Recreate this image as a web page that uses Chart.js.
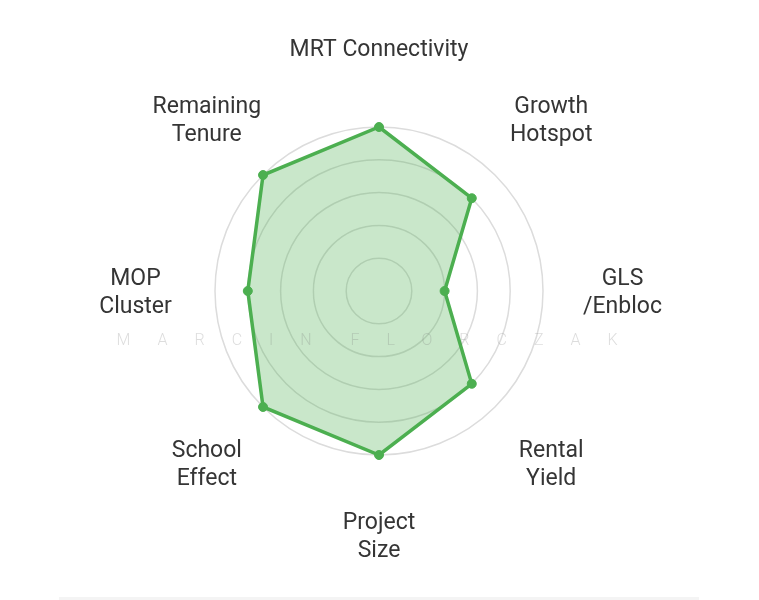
<!DOCTYPE html>
<html>
<head>
<meta charset="utf-8">
<script src="https://cdn.jsdelivr.net/npm/chart.js@4"></script>
<style>
  html, body { margin: 0; padding: 0; background: #ffffff; }
  #wrap { position: relative; width: 759px; height: 600px; overflow: hidden; }
  #c { position: absolute; left: 0; top: 0; }
  #wm {
    position: absolute; left: 116.5px; top: 330px;
    font: 300 16px Roboto, "Noto Sans", sans-serif;
    letter-spacing: 27px; word-spacing: -19px; white-space: pre;
    color: rgba(120,120,120,0.25); pointer-events: none;
  }
  #foot {
    position: absolute; left: 59px; top: 597px; width: 640px; height: 3px;
    background: #f4f4f4;
  }
</style>
</head>
<body>
<div id="wrap">
  <canvas id="c" width="759" height="600"></canvas>
  <div id="wm">MARCIN FLORCZAK</div>
  <div id="foot"></div>
</div>
<script>
// ---- data ----
const categories = [
  ['MRT Connectivity'],
  ['Growth', 'Hotspot'],
  ['GLS', '/Enbloc'],
  ['Rental', 'Yield'],
  ['Project', 'Size'],
  ['School', 'Effect'],
  ['MOP', 'Cluster'],
  ['Remaining', 'Tenure']
];
const scores = [5, 4, 2, 4, 5, 5, 4, 5];
const scaleMin = 0;
const scaleMax = 5;
const scaleStep = 1;

// ---- label plugin: centered multi-line labels placed via the radial scale ----
const centeredLabels = {
  id: 'centeredLabels',
  afterDraw(chart) {
    const r = chart.scales.r;
    const ctx = chart.ctx;
    const lineH = 28;
    const capH = 16.3;
    ctx.save();
    ctx.font = '23px Roboto, "Noto Sans", sans-serif';
    ctx.fillStyle = '#353535';
    ctx.textAlign = 'center';
    ctx.textBaseline = 'alphabetic';
    chart.data.labels.forEach((lab, i) => {
      const lines = Array.isArray(lab) ? lab : [lab];
      const p = r.getPointPosition(i, r.drawingArea + 79.5);
      const n = lines.length;
      lines.forEach((t, k) => {
        const y = p.y - (n - 1) * lineH / 2 + capH / 2 + k * lineH;
        ctx.fillText(t, p.x, y);
      });
    });
    ctx.restore();
  }
};

new Chart(document.getElementById('c'), {
  type: 'radar',
  data: {
    labels: categories,
    datasets: [{
      data: scores,
      borderColor: '#4caf50',
      backgroundColor: 'rgba(76,175,80,0.3)',
      borderWidth: 3.5,
      pointRadius: 4.5,
      pointBackgroundColor: '#4caf50',
      pointBorderColor: '#4caf50',
      pointBorderWidth: 1,
      fill: true
    }]
  },
  options: {
    responsive: false,
    animation: false,
    devicePixelRatio: 1,
    layout: { padding: { left: 214.5, right: 215.5, top: 126.5, bottom: 144.5 } },
    plugins: { legend: { display: false }, tooltip: { enabled: false } },
    scales: {
      r: {
        min: scaleMin,
        max: scaleMax,
        ticks: { stepSize: scaleStep, display: false },
        grid: { circular: true, color: '#dcdcdc', lineWidth: 1.5 },
        angleLines: { display: false },
        pointLabels: { display: false }
      }
    }
  },
  plugins: [centeredLabels]
});
</script>
</body>
</html>
